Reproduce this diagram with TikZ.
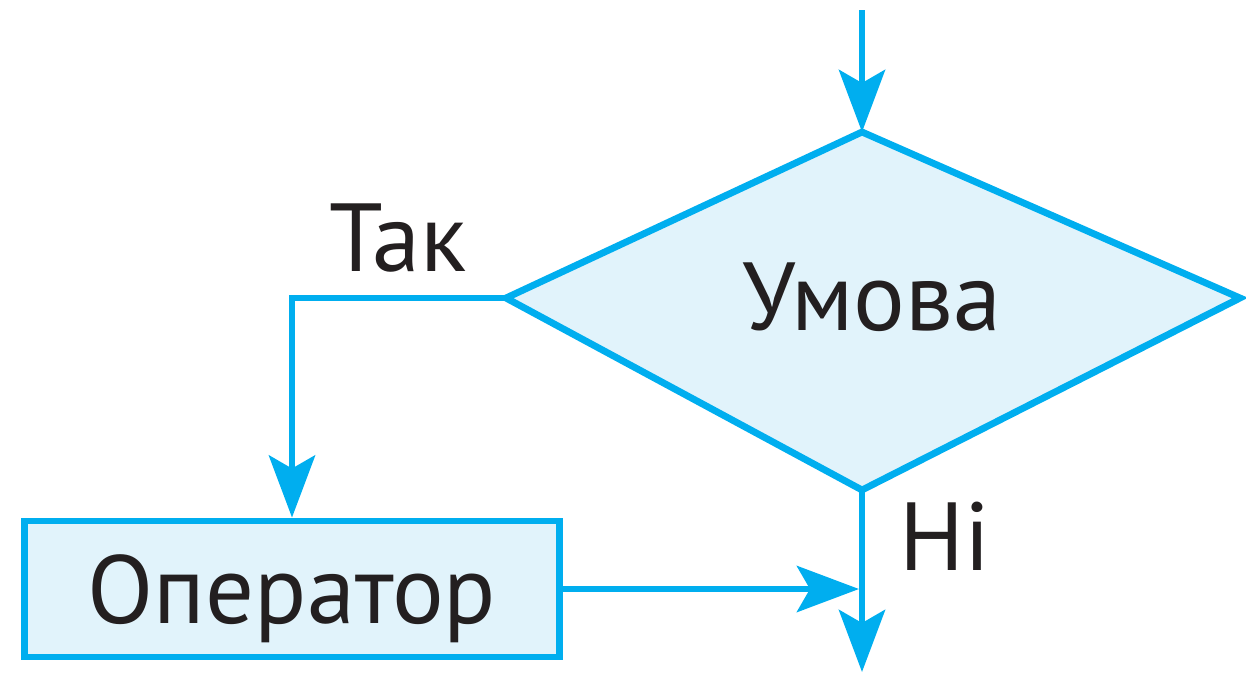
\documentclass[tikz,border=0pt]{standalone}
\usepackage{fontspec}
\setmainfont{PT Sans}
\usetikzlibrary{arrows.meta}
\definecolor{flowline}{HTML}{00AEEF}
\definecolor{flowfill}{HTML}{E1F3FB}
\definecolor{flowtext}{HTML}{231F20}
\begin{document}
\begin{tikzpicture}[x=0.01cm,y=-0.01cm,->,>={Stealth[length=6.2mm,width=4.6mm,inset=1.3mm]},
                    line width=1.95pt,draw=flowline,
                    every node/.style={text=flowtext,font=\fontsize{27.5}{31}\selectfont},
                    opbox/.style={rectangle,draw=flowline,fill=flowfill,inner sep=0pt,
                                  minimum width=5.34cm,minimum height=1.36cm,text depth=0pt}]

  \useasboundingbox (0,0) rectangle (1246,675);

  % corners of the condition block
  \coordinate (top)    at (862,132);
  \coordinate (right)  at (1240,298);
  \coordinate (bottom) at (862,490);
  \coordinate (left)   at (506,298);
  \filldraw[-,fill=flowfill] (top) -- (right) -- (bottom) -- (left) -- cycle;

  \node              (cond) at (872,297) {Умова};
  \node[opbox]       (op)   at (292,589) {Оператор};
  \node[anchor=base] (yes)  at (398,271) {Так};
  \node[anchor=base] (no)   at (945,570) {Ні};

  \coordinate (start) at (862,10);
  \coordinate (join)  at (859,589);
  \coordinate (exit)  at (862,672);

  \path (start)  edge (top)
        (op.east) edge (join)
        (bottom) edge (exit);
  \draw (left) -| (op.north);
\end{tikzpicture}
\end{document}
